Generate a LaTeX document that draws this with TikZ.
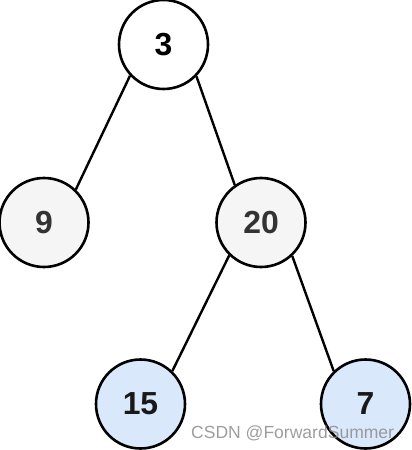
\documentclass[tikz,border=0pt]{standalone}
\usepackage{fontspec}
\setmainfont{Liberation Sans}
\definecolor{graybg}{HTML}{F5F5F5}
\definecolor{bluebg}{HTML}{DAE8FC}
\definecolor{darktext}{HTML}{333333}
\definecolor{wmark}{HTML}{8C8C8C}
\begin{document}
\begin{tikzpicture}[x=1bp,y=-1bp,
  treenode/.style={circle,draw=black,line width=2.6bp,minimum size=89bp,inner sep=0pt,
    font=\fontsize{32}{32}\selectfont\bfseries},
  whitenode/.style={treenode,fill=white,text=black},
  graynode/.style={treenode,fill=graybg,text=darktext},
  bluenode/.style={treenode,fill=bluebg,text=black!90},
  edge/.style={draw=black,line width=2.4bp},
  watermark/.style={text=wmark,opacity=0.85,font=\fontsize{17.6}{18}\selectfont,inner sep=0pt}]
\useasboundingbox (0,0) rectangle (411,450);
\node[whitenode] (n3) at (163.5,44.5) {3};
\node[graynode] (n9) at (44,222.5) {9};
\node[graynode] (n20) at (261,222.5) {20};
\node[bluenode] (n15) at (140.5,404) {15};
\node[bluenode] (n7) at (365.5,404) {7};
\draw[edge] (n3.223) -- (n9.46);
\draw[edge] (n3.316) -- (n20.125);
\draw[edge] (n20.226) -- (n15.46);
\draw[edge] (n20.313) -- (n7.134);
\node[watermark,anchor=west] (wm) at (191,433) {CSDN @ForwardSummer};
\end{tikzpicture}
\end{document}
